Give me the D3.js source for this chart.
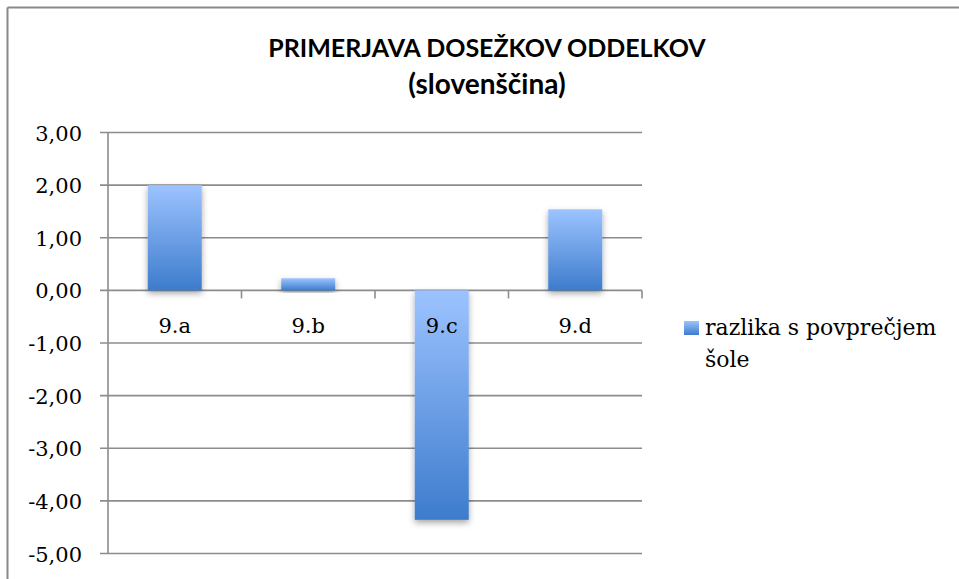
<!DOCTYPE html>
<html>
<head>
<meta charset="utf-8">
<script src="https://cdn.jsdelivr.net/npm/d3@7"></script>
<style>
  body { margin: 0; background: #fff; }
</style>
</head>
<body>
<div id="chart"></div>
<script>
var categories = ["9.a", "9.b", "9.c", "9.d"];
var values = [2.00, 0.23, -4.36, 1.54];
var yTicks = [3, 2, 1, 0, -1, -2, -3, -4, -5];
var seriesName = ["razlika s povprečjem", "šole"];
var titleLines = ["PRIMERJAVA DOSEŽKOV ODDELKOV", "(slovenščina)"];

var width = 959, height = 579;
var plot = {left: 108, right: 642, top: 132.5, bottom: 553.5};
var serif = "'DejaVu Serif', 'Liberation Serif', serif";

var svg = d3.select("#chart").append("svg")
    .attr("width", width).attr("height", height);

var defs = svg.append("defs");
var grad = defs.append("linearGradient").attr("id", "barGrad")
    .attr("x1", 0).attr("y1", 0).attr("x2", 0).attr("y2", 1);
grad.append("stop").attr("offset", "0%").attr("stop-color", "#9cc3ff");
grad.append("stop").attr("offset", "100%").attr("stop-color", "#3d7ccc");

var shadow = defs.append("filter").attr("id", "shadow")
    .attr("x", "-20%").attr("y", "-20%").attr("width", "140%").attr("height", "140%");
shadow.append("feDropShadow").attr("dx", 0).attr("dy", 3).attr("stdDeviation", 3)
    .attr("flood-color", "#000").attr("flood-opacity", 0.35);

// outer frame (only top and left edges are inside the picture)
svg.append("line").attr("x1", 7.5).attr("x2", width).attr("y1", 7.5).attr("y2", 7.5)
    .attr("stroke", "#888").attr("stroke-width", 2);
svg.append("line").attr("x1", 7.5).attr("x2", 7.5).attr("y1", 7.5).attr("y2", height)
    .attr("stroke", "#888").attr("stroke-width", 2);

var x = d3.scaleBand().domain(categories).range([plot.left, plot.right]);
var y = d3.scaleLinear().domain([-5, 3]).range([plot.bottom, plot.top]);

// gridlines
svg.append("g").selectAll("line").data(yTicks).enter().append("line")
    .attr("x1", plot.left - 8).attr("x2", plot.right)
    .attr("y1", function(d) { return y(d); }).attr("y2", function(d) { return y(d); })
    .attr("stroke", "#8c8c8c").attr("stroke-width", 1.6);

// y axis line
svg.append("line").attr("x1", plot.left).attr("x2", plot.left)
    .attr("y1", plot.top).attr("y2", plot.bottom)
    .attr("stroke", "#8c8c8c").attr("stroke-width", 1.6);

// y tick labels
svg.append("g").selectAll("text").data(yTicks).enter().append("text")
    .attr("x", 82).attr("y", function(d) { return y(d) + 8; })
    .attr("text-anchor", "end")
    .attr("font-family", serif)
    .attr("font-size", 21).attr("fill", "#000")
    .text(function(d) { return (d < 0 ? "-" : "") + Math.abs(d).toFixed(2).replace(".", ","); });

// category ticks on zero line
var catTicks = categories.map(function(c) { return x(c) + x.bandwidth(); });
svg.append("g").selectAll("line").data(catTicks).enter().append("line")
    .attr("x1", function(d) { return d; }).attr("x2", function(d) { return d; })
    .attr("y1", y(0)).attr("y2", y(0) + 8)
    .attr("stroke", "#8c8c8c").attr("stroke-width", 1.6);

// bars
var barW = 54;
svg.append("g").selectAll("rect").data(values).enter().append("rect")
    .attr("x", function(d, i) { return x(categories[i]) + (x.bandwidth() - barW) / 2; })
    .attr("y", function(d) { return y(Math.max(0, d)); })
    .attr("width", barW)
    .attr("height", function(d) { return Math.abs(y(d) - y(0)); })
    .attr("fill", "url(#barGrad)")
    .attr("filter", "url(#shadow)");

// category labels
svg.append("g").selectAll("text").data(categories).enter().append("text")
    .attr("x", function(d) { return x(d) + x.bandwidth() / 2; })
    .attr("y", y(0) + 43)
    .attr("text-anchor", "middle")
    .attr("font-family", serif)
    .attr("font-size", 21).attr("fill", "#000")
    .text(function(d) { return d; });

// title
svg.append("g").selectAll("text").data(titleLines).enter().append("text")
    .attr("x", 487).attr("y", function(d, i) { return 57 + i * 37; })
    .attr("text-anchor", "middle")
    .attr("font-family", "Lato, 'Open Sans', sans-serif")
    .attr("font-weight", "bold").attr("font-size", function(d, i) { return i ? 28 : 25; })
    .attr("fill", "#000")
    .text(function(d) { return d; });

// legend
svg.append("rect").attr("x", 684).attr("y", 321).attr("width", 15).attr("height", 14)
    .attr("fill", "url(#barGrad)");
svg.append("g").selectAll("text").data(seriesName).enter().append("text")
    .attr("x", 705).attr("y", function(d, i) { return 335 + i * 32; })
    .attr("font-family", serif)
    .attr("font-size", 22).attr("fill", "#000")
    .text(function(d) { return d; });
</script>
</body>
</html>
